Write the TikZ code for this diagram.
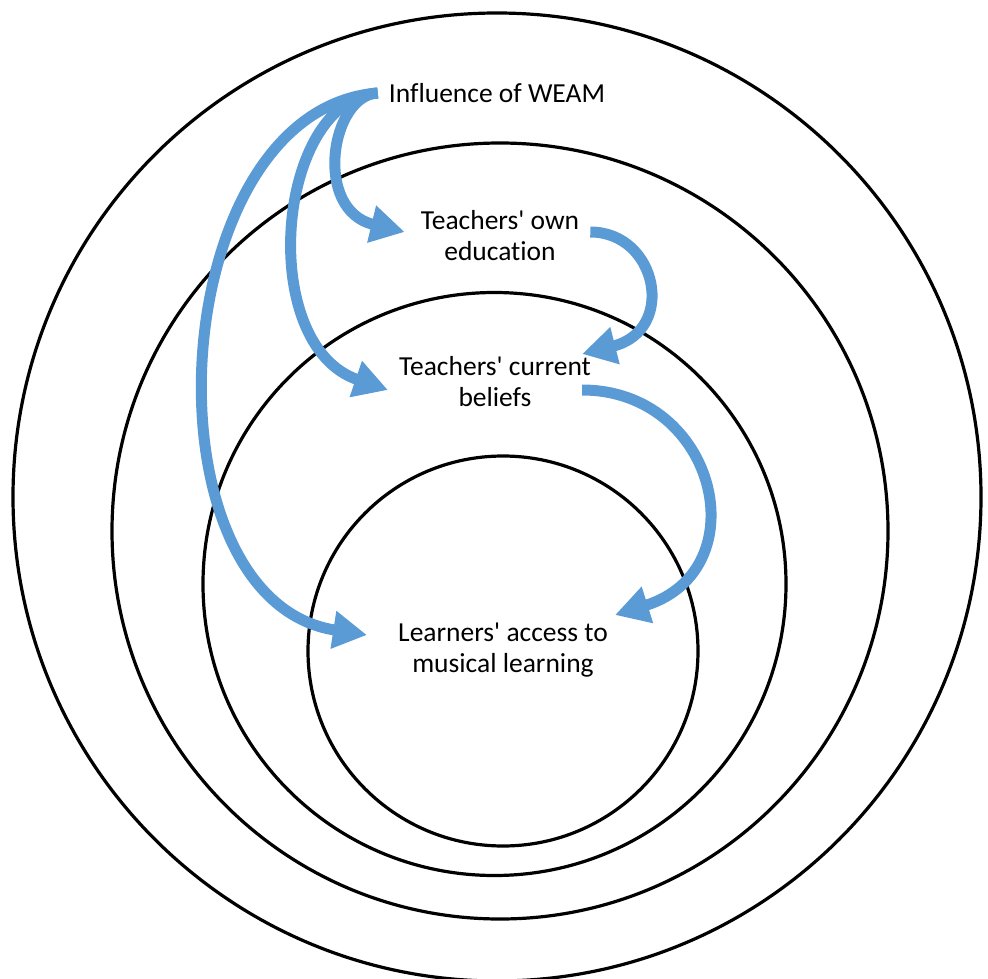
\documentclass[tikz,border=0pt]{standalone}
\usepackage{fontspec}
\setmainfont{Carlito}[Ligatures={TeXOff,NoCommon}]
\usetikzlibrary{arrows.meta,calc}
\definecolor{weamblue}{RGB}{91,155,213}
\tikzset{
  ring/.style={draw=black, line width=3.2pt},
  txt/.style={inner sep=0pt, align=center, font=\fontsize{27.5}{31}\selectfont},
  flow/.style={draw=weamblue, line width=11pt, -{Triangle[length=34pt,width=36pt]}}
}

\begin{document}
\begin{tikzpicture}[x=1pt,y=-1pt]
    \useasboundingbox (0,0) rectangle (988,979);
    % nested rings
    \draw[ring] (497,497) circle[radius=484pt];
    \draw[ring] (500,531) circle[radius=388pt];
    \draw[ring] (494.5,584) circle[radius=291.5pt];
    \draw[ring] (503,651) circle[radius=195pt];
    \node[txt] (infl) at (497,93) {Influence of WEAM};
    \node[txt] (own) at (500,236) {Teachers' own\\education};
    \node[txt] (cur) at (495,382) {Teachers' current\\beliefs};
    \node[txt] (learn) at (503,650) {Learners' access to\\musical learning};
    % arrows from WEAM
    \draw[flow] ($(infl.west)+(-11,0)$) .. controls +(-47,2) and +(-92,-22) .. ($(own.west)+(-16,-4)$);
    \draw[flow] ($(infl.west)+(-11,0)$) .. controls +(-102,7) and +(-132,-45) .. ($(cur.west)+(-11,8)$);
    \draw[flow] ($(infl.west)+(-11,0)$) .. controls +(-215,17) and +(-228,-35) .. ($(learn.west)+(-31,-15)$);
    % chain on the right
    \draw[flow] ($(own.east)+(11,-4)$) .. controls +(67,0) and +(95,-24) .. ($(cur.east)+(-9,-28)$);
    \draw[flow] ($(cur.east)+(-9,8)$) .. controls +(135,0) and +(144,-45) .. ($(learn.east)+(7,-35)$);
\end{tikzpicture}
\end{document}
